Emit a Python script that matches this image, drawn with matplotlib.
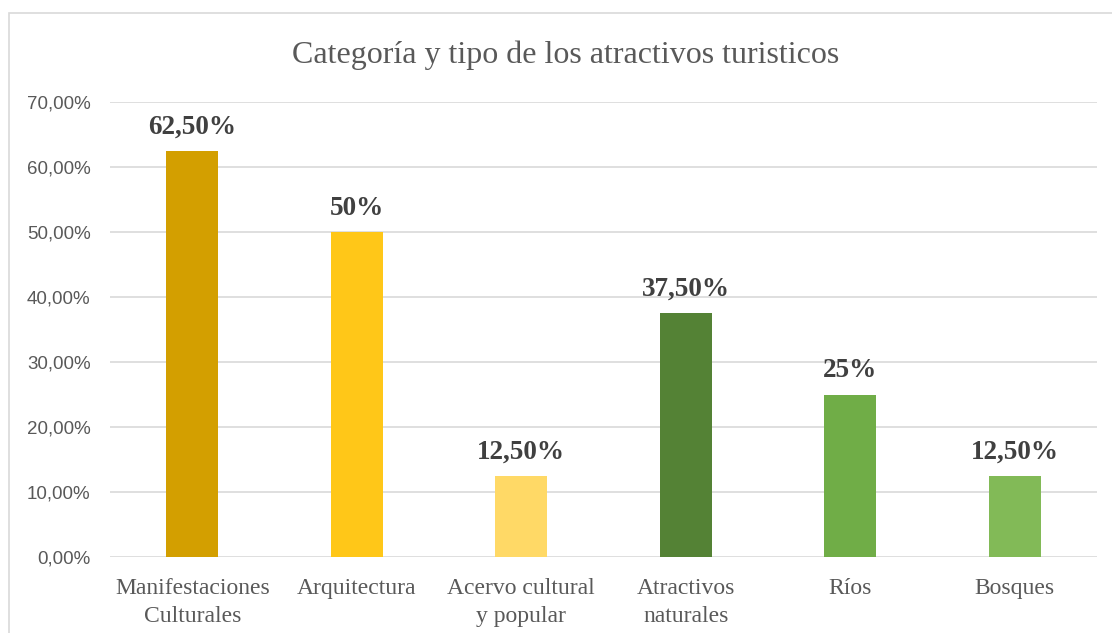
import matplotlib
matplotlib.use("Agg")
import matplotlib.pyplot as plt
from matplotlib.patches import Rectangle

# ─── Data ─────────────────────────────────────────────────────────────────────
categorias = [
    "Manifestaciones\nCulturales",
    "Arquitectura",
    "Acervo cultural\ny popular",
    "Atractivos\nnaturales",
    "Ríos",
    "Bosques",
]
porcentajes = [62.5, 50.0, 12.5, 37.5, 25.0, 12.5]
etiquetas = ["62,50%", "50%", "12,50%", "37,50%", "25%", "12,50%"]
colores = ["#D39F00", "#FFC718", "#FFD966", "#548235", "#70AD47", "#82BA57"]
yticks = [0, 10, 20, 30, 40, 50, 60, 70]
ytick_labels = ["0,00%", "10,00%", "20,00%", "30,00%", "40,00%", "50,00%", "60,00%", "70,00%"]

SERIF = ["Liberation Serif", "DejaVu Serif"]
SANS = ["Liberation Sans", "DejaVu Sans"]

fig = plt.figure(figsize=(11.12, 6.33), dpi=100)
W, H = 1112, 633

# chart frame (left and top edges visible; right/bottom are cut off)
fig.add_artist(Rectangle((9 / W, -0.05), 1.2, (633 - 12.5) / H + 0.05,
                         transform=fig.transFigure, fill=False,
                         edgecolor="#D9D9D9", linewidth=1.2))

# axes: x from 110 to 1097 px, y from 0% at 557 px to 70% at 102 px
ax = fig.add_axes([110 / W, (H - 557) / H, (1097 - 110) / W, (557 - 102) / H])

x = range(len(categorias))
ax.bar(x, porcentajes, width=0.316, color=colores, zorder=3)

for xi, v, lab in zip(x, porcentajes, etiquetas):
    ax.annotate(lab, (xi, v), xytext=(0, 12.5), textcoords="offset points",
                ha="center", va="baseline", fontsize=19.5, fontweight="bold",
                family=SERIF, color="#404040")

ax.set_xlim(-0.5, len(categorias) - 0.5)
ax.set_ylim(0, 70)
ax.set_yticks(yticks)
ax.set_yticklabels(ytick_labels, family=SANS, fontsize=13.5, color="#595959")
ax.set_xticks(list(x))
ax.set_xticklabels(categorias, family=SERIF, fontsize=17, color="#595959",
                   linespacing=1.45)
ax.tick_params(axis="both", length=0)
ax.tick_params(axis="y", pad=14)
ax.tick_params(axis="x", pad=15)

ax.grid(axis="y", color="#D9D9D9", linewidth=1.2, zorder=0)
for s in ax.spines.values():
    s.set_visible(False)

fig.text(566 / W, 1 - 63 / H, "Categoría y tipo de los atractivos turisticos",
         ha="center", va="baseline", fontsize=23, family=SERIF, color="#595959")

fig.savefig("out.png", dpi=100)
